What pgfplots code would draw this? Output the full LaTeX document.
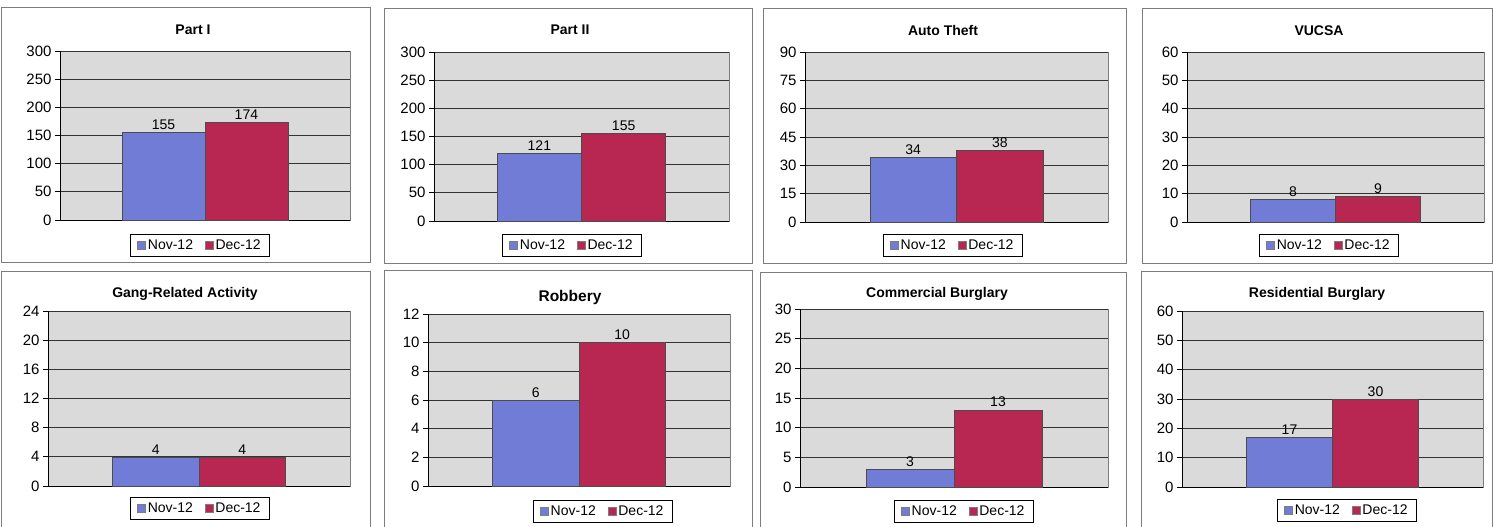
\documentclass[border=0pt]{standalone}
\usepackage{fontspec}
\setmainfont{Liberation Sans}
\usepackage{pgfplots}
\pgfplotsset{compat=1.18}

\definecolor{novblue}{RGB}{112,124,214}
\definecolor{decred}{RGB}{184,38,82}
\definecolor{plotbg}{RGB}{218,218,218}
\definecolor{edge}{RGB}{125,125,125}

\pgfplotsset{
  panel/.style={
    scale only axis,
    ybar, bar width=0.285714, bar shift=0pt,
    xmin=-0.5, xmax=0.5, ymin=0,
    xtick=\empty,
    axis x line*=bottom, axis y line*=left,
    axis line style={black, line width=0.8pt},
    axis background/.style={fill=plotbg, draw=edge, line width=0.6pt},
    ymajorgrids, grid style={black!80, line width=0.7pt},
    tick align=outside, major tick length=5pt,
    tick style={black, line width=0.8pt},
    ticklabel style={font=\fontsize{15}{17}\selectfont},
    /pgf/number format/assume math mode=true,
    nodes near coords,
    every node near coord/.append style={font=\fontsize{14}{16}\selectfont, black, inner sep=2.5pt},
    clip=false,
    legend columns=2,
    legend style={draw=black, line width=0.6pt, fill=white, anchor=center,
      font=\fontsize{14}{16}\selectfont, inner xsep=7pt, inner ysep=3.5pt,
      /tikz/every even column/.append style={column sep=10pt}},
    legend image code/.code={\draw[#1, draw=edge, line width=0.5pt] (0pt,-4pt) rectangle (8pt,4pt);},
  },
  nov/.style={fill=novblue, draw=black!70, line width=0.6pt},
  dec/.style={fill=decred, draw=black!70, line width=0.6pt},
}

\begin{document}
\begin{tikzpicture}
\useasboundingbox (0pt,0pt) rectangle (1493pt,527pt);

% panel frames
\draw[edge, line width=0.8pt] (1pt,265pt) rectangle (370pt,520pt);
\draw[edge, line width=0.8pt] (384pt,264pt) rectangle (752pt,519pt);
\draw[edge, line width=0.8pt] (763pt,264pt) rectangle (1126pt,519pt);
\draw[edge, line width=0.8pt] (1142pt,264pt) rectangle (1492pt,519pt);
\draw[edge, line width=0.8pt] (1pt,-5pt) rectangle (370pt,256pt);
\draw[edge, line width=0.8pt] (384pt,-5pt) rectangle (752pt,257pt);
\draw[edge, line width=0.8pt] (760pt,-5pt) rectangle (1126pt,255pt);
\draw[edge, line width=0.8pt] (1141pt,-5pt) rectangle (1492pt,256pt);

% titles
\begin{scope}[every node/.style={font=\bfseries\fontsize{14}{16}\selectfont}]
\node at (193pt,497pt) {Part I};
\node at (570pt,497pt) {Part II};
\node at (943pt,496pt) {Auto Theft};
\node at (1319pt,496pt) {VUCSA};
\node at (185pt,233pt) {Gang-Related Activity};
\node[font=\bfseries\fontsize{15.5}{18}\selectfont] at (570pt,230pt) {Robbery};
\node at (937pt,233pt) {Commercial Burglary};
\node at (1317pt,233pt) {Residential Burglary};
\end{scope}

% Part I
\begin{axis}[panel, at={(60pt,307pt)}, anchor=south west, width=290pt, height=169pt,
  ymax=300, ytick={0,50,...,300}, legend style={at={(0.483,-0.148)}}]
\addplot[nov] coordinates {(-0.142857,155)};
\addplot[dec] coordinates {(0.142857,174)};
\legend{Nov-12,Dec-12}
\end{axis}

% Part II
\begin{axis}[panel, at={(434pt,306pt)}, anchor=south west, width=295pt, height=169pt,
  ymax=300, ytick={0,50,...,300}, legend style={at={(0.468,-0.142)}}]
\addplot[nov] coordinates {(-0.142857,121)};
\addplot[dec] coordinates {(0.142857,155)};
\legend{Nov-12,Dec-12}
\end{axis}

% Auto Theft
\begin{axis}[panel, at={(805pt,305pt)}, anchor=south west, width=303pt, height=170pt,
  ymax=90, ytick={0,15,...,90}, legend style={at={(0.488,-0.135)}}]
\addplot[nov] coordinates {(-0.142857,34)};
\addplot[dec] coordinates {(0.142857,38)};
\legend{Nov-12,Dec-12}
\end{axis}

% VUCSA
\begin{axis}[panel, at={(1187pt,305pt)}, anchor=south west, width=297pt, height=170pt,
  ymax=60, ytick={0,10,...,60}, legend style={at={(0.478,-0.135)}}]
\addplot[nov] coordinates {(-0.142857,8)};
\addplot[dec] coordinates {(0.142857,9)};
\legend{Nov-12,Dec-12}
\end{axis}

% Gang-Related Activity
\begin{axis}[panel, at={(48pt,41pt)}, anchor=south west, width=302pt, height=175pt,
  ymax=24, ytick={0,4,...,24}, legend style={at={(0.503,-0.126)}}]
\addplot[nov] coordinates {(-0.142857,4)};
\addplot[dec] coordinates {(0.142857,4)};
\legend{Nov-12,Dec-12}
\end{axis}

% Robbery
\begin{axis}[panel, at={(428pt,41pt)}, anchor=south west, width=302pt, height=172pt,
  ymax=12, ytick={0,2,...,12}, legend style={at={(0.579,-0.145)}}]
\addplot[nov] coordinates {(-0.142857,6)};
\addplot[dec] coordinates {(0.142857,10)};
\legend{Nov-12,Dec-12}
\end{axis}

% Commercial Burglary
\begin{axis}[panel, at={(800pt,40pt)}, anchor=south west, width=308pt, height=178pt,
  ymax=30, ytick={0,5,...,30}, legend style={at={(0.532,-0.135)}}]
\addplot[nov] coordinates {(-0.142857,3)};
\addplot[dec] coordinates {(0.142857,13)};
\legend{Nov-12,Dec-12}
\end{axis}

% Residential Burglary
\begin{axis}[panel, at={(1182pt,40pt)}, anchor=south west, width=301pt, height=176pt,
  ymax=60, ytick={0,10,...,60}, legend style={at={(0.548,-0.131)}}]
\addplot[nov] coordinates {(-0.142857,17)};
\addplot[dec] coordinates {(0.142857,30)};
\legend{Nov-12,Dec-12}
\end{axis}
\end{tikzpicture}
\end{document}
